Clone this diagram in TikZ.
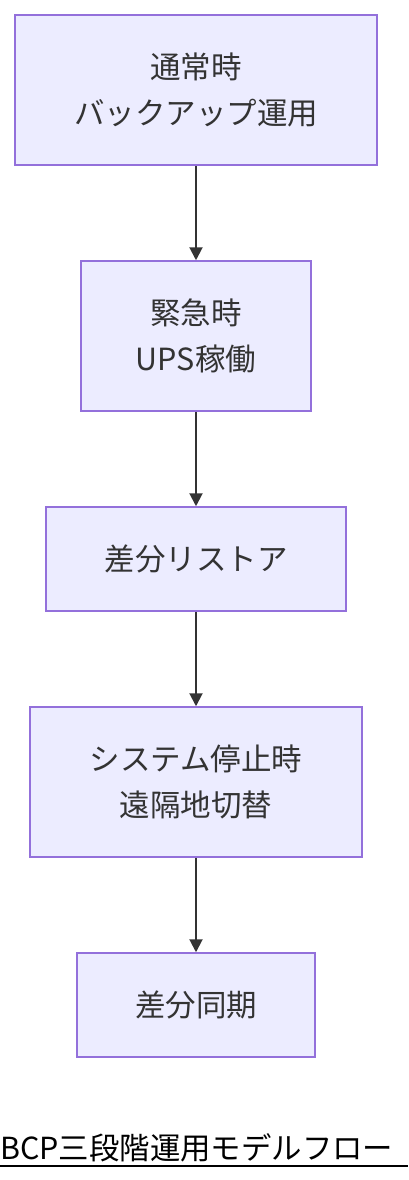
\documentclass[tikz,border=0pt]{standalone}
\usepackage{fontspec}
\setmainfont{Noto Sans CJK JP}
\newfontfamily\cjk{Noto Sans CJK JP}
\usetikzlibrary{arrows.meta}
\definecolor{boxfill}{HTML}{ECECFF}
\definecolor{boxline}{HTML}{9370DB}
\definecolor{ink}{HTML}{333333}
\tikzset{
  flowbox/.style={draw=boxline, fill=boxfill, line width=1.5pt, rectangle,
    inner sep=0pt, align=center, text=ink, font=\cjk\fontsize{30.5}{46}\selectfont},
  flowarrow/.style={draw=ink, line width=2pt, -{Triangle[length=13pt,width=13pt]}}
}
\begin{document}
\begin{tikzpicture}[x=1pt,y=1pt]
\useasboundingbox (0,0) rectangle (408,-1180);
\node[flowbox, minimum width=362pt, minimum height=150pt] (n1) at (196,-90) {通常時\\バックアップ運用};
\node[flowbox, minimum width=230pt, minimum height=150pt] (n2) at (196,-336) {緊急時\\UPS稼働};
\node[flowbox, minimum width=300pt, minimum height=104pt] (n3) at (196,-559) {差分リストア};
\node[flowbox, minimum width=332pt, minimum height=150pt] (n4) at (196,-782) {システム停止時\\遠隔地切替};
\node[flowbox, minimum width=238pt, minimum height=104pt] (n5) at (196,-1005) {差分同期};
\draw[flowarrow] (n1) -- (n2);
\draw[flowarrow] (n2) -- (n3);
\draw[flowarrow] (n3) -- (n4);
\draw[flowarrow] (n4) -- (n5);
\node[anchor=base west, inner sep=0pt, text=black] (title) at (0,-1159)
  {\resizebox{393pt}{!}{\cjk BCP三段階運用モデルフロー}};
\coordinate (ulA) at (0,-1166);
\coordinate (ulB) at (408,-1166);
\draw[black, line width=2pt] (ulA) -- (ulB);
\end{tikzpicture}
\end{document}
